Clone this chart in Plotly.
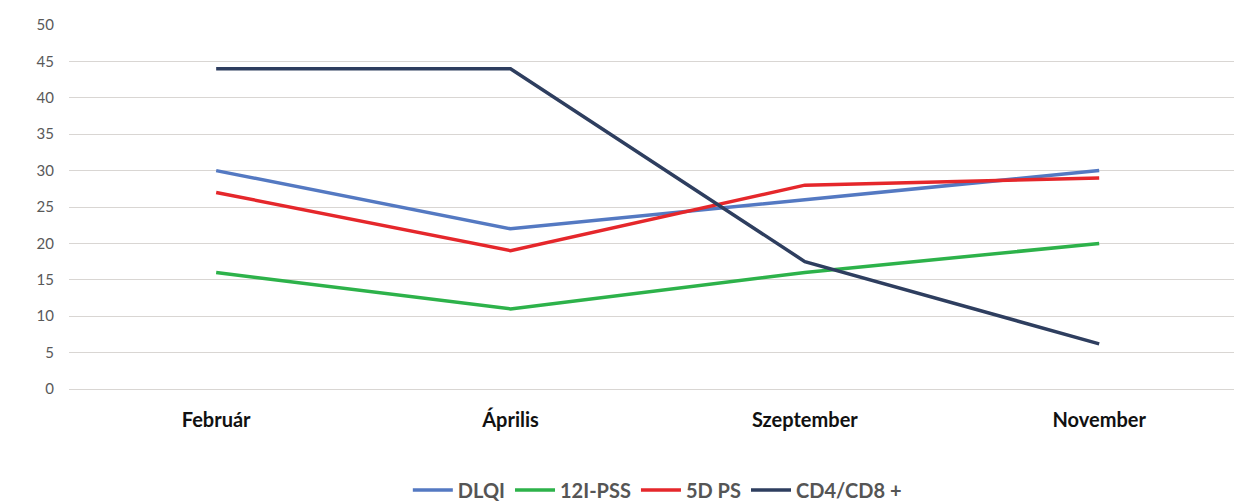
import plotly.graph_objects as go

months = ["Február", "Április", "Szeptember", "November"]
dlqi = [30, 22, 26, 30]
pss12 = [16, 11, 16, 20]
ps5d = [27, 19, 28, 29]
cd4cd8 = [44, 44, 17.5, 6.2]
y_ticks = [0, 5, 10, 15, 20, 25, 30, 35, 40, 45, 50]

series = [
    ("DLQI", dlqi, "#5479C2"),
    ("12I-PSS", pss12, "#2DB24A"),
    ("5D PS", ps5d, "#E5272B"),
    ("CD4/CD8 +", cd4cd8, "#2E3E5F"),
]

fig = go.Figure()
for name, vals, color in series:
    fig.add_trace(go.Scatter(
        x=list(range(len(months))), y=vals, name=name, mode="lines",
        line=dict(color=color, width=3.5),
    ))

fig.update_layout(
    width=1234, height=501,
    margin=dict(l=69, r=0, t=25, b=112, autoexpand=False),
    paper_bgcolor="white", plot_bgcolor="white",
    font=dict(family="Lato, 'Open Sans', sans-serif"),
    showlegend=True,
    legend=dict(
        orientation="h", x=0.505, xanchor="center",
        yref="container", y=0.022, yanchor="middle",
        font=dict(size=20, color="#555555", family="Lato, sans-serif", weight="bold"),
        itemwidth=40, tracegroupgap=0,
    ),
    xaxis=dict(
        range=[-0.5, 3.458], tickmode="array",
        tickvals=list(range(len(months))), ticktext=months,
        showgrid=False, zeroline=False, showline=False, automargin=False,
        tickfont=dict(size=20, color="#111111", family="Lato, sans-serif", weight="bold"),
        ticklabelstandoff=17,
    ),
    yaxis=dict(
        range=[0, 50], tickmode="array", tickvals=y_ticks, automargin=False,
        showgrid=True, gridcolor="#D9D6D3", gridwidth=1.3,
        zeroline=True, zerolinecolor="#D9D6D3", zerolinewidth=1.3,
        showline=False,
        tickfont=dict(size=15, color="#595959", family="Lato, sans-serif"),
        ticklabelstandoff=14,
    ),
)

fig.write_html(
    "out.html",
    config={"displayModeBar": False},
    post_script="document.body.style.margin='0';document.body.style.overflow='hidden';",
)
